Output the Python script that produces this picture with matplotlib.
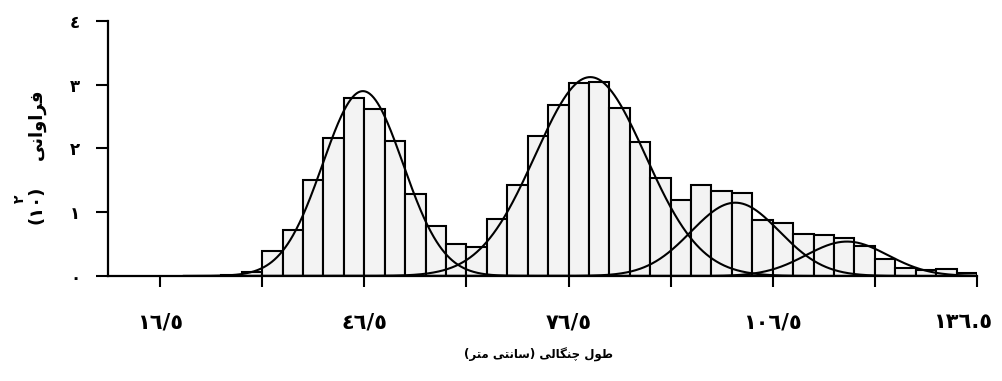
import numpy as np
import matplotlib
matplotlib.use("Agg")
import matplotlib.pyplot as plt
from matplotlib.transforms import ScaledTranslation

# ---------------- data ----------------
bin_left = [25.5, 28.5, 31.5, 34.5, 37.5, 40.5, 43.5, 46.5, 49.5,
            52.5, 55.5, 58.5, 61.5, 64.5, 67.5, 70.5, 73.5, 76.5, 79.5,
            82.5, 85.5, 88.5, 91.5, 94.5, 97.5, 100.5, 103.5, 106.5, 109.5,
            112.5, 115.5, 118.5, 121.5, 124.5, 127.5, 130.5, 133.5]
freq = [0.02, 0.07, 0.39, 0.72, 1.50, 2.16, 2.79, 2.62, 2.12,
        1.29, 0.78, 0.50, 0.46, 0.90, 1.43, 2.19, 2.68, 3.03, 3.05,
        2.64, 2.10, 1.53, 1.20, 1.42, 1.34, 1.30, 0.88, 0.83, 0.66,
        0.65, 0.59, 0.47, 0.27, 0.12, 0.10, 0.11, 0.04]
bin_width = 3

# fitted normal components (mean, sd, peak height)
comp_mean = [46.3, 79.7, 101.0, 117.4]
comp_sd = [5.9, 8.1, 6.5, 6.0]
comp_peak = [2.90, 3.12, 1.15, 0.54]

xtick_major = [16.5, 46.5, 76.5, 106.5, 136.5]
xtick_major_labels = ["١٦/٥", "٤٦/٥", "٧٦/٥", "١٠٦/٥", "١٣٦.٥"]
xtick_minor = [31.5, 61.5, 91.5, 121.5]
ytick_vals = [0, 1, 2, 3, 4]
ytick_labels = ["٠", "١", "٢", "٣", "٤"]

xlabel_text = "طول چنگالی (سانتی متر)"
ylabel_word = "فراوانی"
ylabel_num = "(١٠"
ylabel_sup = "٢"

# ---------------- simple Arabic/Persian shaping ----------------
FORMS = {
    '\u0637': ('\uFEC1', '\uFEC2', '\uFEC3', '\uFEC4'),
    '\u0648': ('\uFEED', '\uFEEE', None, None),
    '\u0644': ('\uFEDD', '\uFEDE', '\uFEDF', '\uFEE0'),
    '\u0686': ('\uFB7A', '\uFB7B', '\uFB7C', '\uFB7D'),
    '\u0646': ('\uFEE5', '\uFEE6', '\uFEE7', '\uFEE8'),
    '\u06AF': ('\uFB92', '\uFB93', '\uFB94', '\uFB95'),
    '\u0627': ('\uFE8D', '\uFE8E', None, None),
    '\u06CC': ('\uFBFC', '\uFBFD', '\uFBFE', '\uFBFF'),
    '\u0633': ('\uFEB1', '\uFEB2', '\uFEB3', '\uFEB4'),
    '\u062A': ('\uFE95', '\uFE96', '\uFE97', '\uFE98'),
    '\u0645': ('\uFEE1', '\uFEE2', '\uFEE3', '\uFEE4'),
    '\u0631': ('\uFEAD', '\uFEAE', None, None),
    '\u0641': ('\uFED1', '\uFED2', '\uFED3', '\uFED4'),
}
MIRROR = {'(': ')', ')': '('}


def shape_rtl(text):
    out = []
    n = len(text)
    for i, c in enumerate(text):
        if c not in FORMS:
            out.append(MIRROR.get(c, c))
            continue
        f = FORMS[c]
        prev = text[i - 1] if i > 0 else ''
        nxt = text[i + 1] if i < n - 1 else ''
        join_prev = prev in FORMS and FORMS[prev][2] is not None
        join_next = f[2] is not None and nxt in FORMS
        if join_prev and join_next:
            g = f[3]
        elif join_prev:
            g = f[1]
        elif join_next:
            g = f[2]
        else:
            g = f[0]
        out.append(g)
    return ''.join(reversed(out))


# ---------------- figure ----------------
W, H = 1003, 381
fig = plt.figure(figsize=(W / 100, H / 100), dpi=100)
ax = fig.add_axes([108 / W, 105 / H, 869 / W, 255 / H])

ax.bar(bin_left, freq, width=bin_width, align='edge', color='#f3f3f3',
       edgecolor='black', linewidth=1.5, zorder=2)

xs = np.linspace(20, 136.5, 1200)
for m, s, p in zip(comp_mean, comp_sd, comp_peak):
    ax.plot(xs, p * np.exp(-(xs - m) ** 2 / (2 * s ** 2)), color='black',
            lw=1.5, zorder=3)

ax.set_xlim(8.86, 136.5)
ax.set_ylim(0, 4)
for sp in ['top', 'right']:
    ax.spines[sp].set_visible(False)
for sp in ['left', 'bottom']:
    ax.spines[sp].set_linewidth(1.6)
    ax.spines[sp].set_zorder(4)

ax.set_xticks(xtick_major)
ax.set_xticklabels(xtick_major_labels, fontsize=15, fontweight='bold',
                   family='DejaVu Sans')
ax.set_xticks(xtick_minor, minor=True)
ax.tick_params(axis='x', which='both', direction='out', length=8, width=1.5,
               pad=18)
# last label sits a little left of its tick, as in the reference
last = ax.get_xticklabels()[-1]
last.set_transform(last.get_transform() +
                   ScaledTranslation(-14 / 100, 0, fig.dpi_scale_trans))

ax.set_yticks(ytick_vals)
ax.set_yticklabels(ytick_labels, fontsize=12, fontweight='bold',
                   family='DejaVu Sans')
ax.tick_params(axis='y', direction='out', length=9, width=1.5, pad=11)

fig.text(538 / W, 1 - 355 / H, shape_rtl(xlabel_text), ha='center',
         va='center', fontsize=8.5, fontweight='bold', family='DejaVu Sans')

# y label (rotated)
fig.text(37 / W, 1 - 124 / H, shape_rtl(ylabel_word), rotation=90,
         ha='center', va='center', fontsize=13, fontweight='bold',
         family='DejaVu Sans')
fig.text(37 / W, 1 - 205 / H, ylabel_num + ")", rotation=90, ha='center',
         va='center', fontsize=13, fontweight='bold', family='DejaVu Sans')
fig.text(20 / W, 1 - 199 / H, ylabel_sup, rotation=90, ha='center',
         va='center', fontsize=10, fontweight='bold', family='DejaVu Sans')

fig.savefig('out.png', dpi=100)
